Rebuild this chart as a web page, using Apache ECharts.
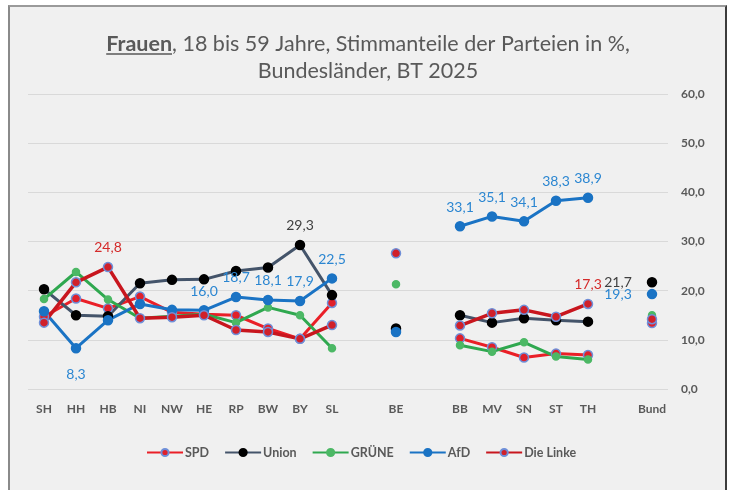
<!DOCTYPE html>
<html>
<head>
<meta charset="utf-8">
<title>Frauen 18-59, BT 2025</title>
<script src="https://cdn.jsdelivr.net/npm/echarts@6/dist/echarts.min.js"></script>
<style>
  body { margin: 0; background: #fff; }
  #frame {
    position: absolute; left: 8px; top: 5px; width: 715px; height: 500px;
    background: #f0f0f0;
    border-top: 2px solid #9a9a9a; border-left: 2px solid #8a8a8a; border-right: 2px solid #3c3c3c;
  }
  #main { position: absolute; left: 0; top: 0; width: 731px; height: 490px; }
</style>
</head>
<body>
<div id="frame"></div>
<div id="main"></div>
<script>
var categories = ['SH', 'HH', 'HB', 'NI', 'NW', 'HE', 'RP', 'BW', 'BY', 'SL', '', 'BE', '', 'BB', 'MV', 'SN', 'ST', 'TH', '', 'Bund'];

var spd    = [14.7, 18.4, 16.4, 18.8, 15.6, 15.2, 15.0, 12.3, 10.2, 17.5, null, 12.0, null, 10.3, 8.5, 6.4, 7.2, 6.9, null, 13.4];
var union  = [20.3, 15.0, 14.8, 21.5, 22.2, 22.3, 24.0, 24.7, 29.3, 19.1, null, 12.3, null, 15.0, 13.5, 14.4, 14.0, 13.7, null, 21.7];
var gruene = [18.3, 23.8, 18.2, 14.4, 14.8, 15.2, 13.5, 16.6, 15.0, 8.3, null, 21.3, null, 8.9, 7.6, 9.5, 6.6, 6.0, null, 15.0];
var afd    = [15.8, 8.3, 14.0, 17.3, 16.1, 16.0, 18.7, 18.1, 17.9, 22.5, null, 11.6, null, 33.1, 35.1, 34.1, 38.3, 38.9, null, 19.3];
var linke  = [13.5, 21.7, 24.8, 14.4, 14.6, 15.0, 12.0, 11.6, 10.2, 13.0, null, 27.6, null, 12.9, 15.4, 16.1, 14.7, 17.3, null, 14.2];

// which points carry a value label
var afdLabels = [1, 5, 6, 7, 8, 9, 13, 14, 15, 16, 17, 19];
var unionLabels = [8, 19];
var linkeLabels = [2, 17];

var FONT = 'Lato, "Open Sans", sans-serif';
var GREY = '#595959';

function fmt(v) { return v.toFixed(1).replace('.', ','); }

function withLabels(values, idx, color) {
  return values.map(function (v, i) {
    if (v === null || idx.indexOf(i) < 0) return v;
    var pos = 'top', dist = 7;
    if (categories[i] === 'Bund') { pos = 'left'; dist = 15; }
    if (i === 1 && values === afd) { pos = 'bottom'; dist = 14; }
    return {
      value: v,
      label: {
        show: true, position: pos, distance: dist,
        formatter: fmt(v), color: color, fontSize: 14, fontFamily: FONT
      }
    };
  });
}

function lineSeries(name, data, lineColor, width, symFill, symBorder, symSize) {
  return {
    name: name, type: 'line', data: data,
    connectNulls: false, showAllSymbol: true,
    symbol: 'circle', symbolSize: symSize,
    lineStyle: { color: lineColor, width: width },
    itemStyle: { color: symFill, borderColor: symBorder, borderWidth: 1.5 },
    emphasis: { disabled: true }
  };
}

var chart = echarts.init(document.getElementById('main'));

var titleSize = 21.5;
var titleCenter = 368;
var option = {
  animation: false,
  backgroundColor: 'transparent',
  title: {
    text: '{u|Frauen}, 18 bis 59 Jahre, Stimmanteile der Parteien in %,\nBundesländer, BT 2025',
    left: titleCenter, top: 31, textAlign: 'center', padding: 0,
    textStyle: {
      fontSize: titleSize, fontFamily: FONT, color: GREY, fontWeight: 'normal', lineHeight: 27,
      rich: { u: { fontSize: titleSize, fontFamily: FONT, color: GREY, fontWeight: 'bold', lineHeight: 27 } }
    }
  },
  grid: { left: 28, right: 63, top: 94, bottom: 101, containLabel: false },
  legend: {
    left: 146, top: 446, padding: 0, itemWidth: 36, itemHeight: 9, itemGap: 15,
    textStyle: { color: GREY, fontWeight: 'bold', fontSize: 12.5, fontFamily: FONT, padding: [0, 0, 0, -3] },
    data: ['SPD', 'Union', 'GRÜNE', 'AfD', 'Die Linke']
  },
  xAxis: {
    type: 'category', data: categories, boundaryGap: true,
    axisLine: { show: false }, axisTick: { show: false },
    axisLabel: { color: GREY, fontWeight: 'bold', fontSize: 12, fontFamily: FONT, margin: 14, interval: 0 }
  },
  yAxis: {
    type: 'value', position: 'right', min: 0, max: 60, interval: 10,
    axisLine: { show: false }, axisTick: { show: false },
    splitLine: { lineStyle: { color: '#d9d9d9', width: 1 } },
    axisLabel: {
      color: GREY, fontWeight: 'bold', fontSize: 12, fontFamily: FONT, margin: 13,
      formatter: function (v) { return fmt(v); }
    }
  },
  series: [
    lineSeries('SPD', spd, '#ea1f27', 3, '#e0202a', '#6f8fd8', 9),
    lineSeries('Union', withLabels(union, unionLabels, '#404040'), '#44546a', 3, '#000000', '#000000', 9),
    lineSeries('GRÜNE', gruene, '#2fa84f', 3, '#4cb865', '#4cb865', 7),
    lineSeries('AfD', withLabels(afd, afdLabels, '#2b86d1'), '#1a73c4', 3, '#1a73c4', '#1a73c4', 9),
    lineSeries('Die Linke', withLabels(linke, linkeLabels, '#d42a2a'), '#c8161e', 3.5, '#d0202a', '#6f8fd8', 9)
  ]
};
chart.setOption(option);

// underline under "Frauen" in the title
var ctx = document.createElement('canvas').getContext('2d');
ctx.font = 'bold ' + titleSize + 'px ' + FONT;
var wBold = ctx.measureText('Frauen').width;
ctx.font = titleSize + 'px ' + FONT;
var wRest = ctx.measureText(', 18 bis 59 Jahre, Stimmanteile der Parteien in %,').width;
var x0 = titleCenter - (wBold + wRest) / 2;
chart.setOption({
  graphic: [{
    type: 'line', silent: true,
    shape: { x1: x0, y1: 54, x2: x0 + wBold, y2: 54 },
    style: { stroke: GREY, lineWidth: 1.5 }
  }]
});
</script>
</body>
</html>
